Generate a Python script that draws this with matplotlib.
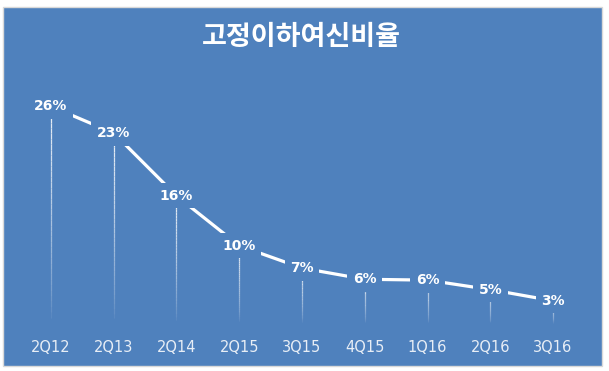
import numpy as np
import matplotlib.pyplot as plt
from matplotlib.collections import LineCollection
from matplotlib.patches import Rectangle

# 분기별 고정이하여신비율 (%)
quarters = ['2Q12', '2Q13', '2Q14', '2Q15', '3Q15', '4Q15', '1Q16', '2Q16', '3Q16']
ratio = [26.0, 22.9, 15.6, 9.8, 7.2, 5.9, 5.8, 4.7, 3.4]
title = '고정이하여신비율'

bg = '#4F81BD'
plt.rcParams['font.family'] = ['Noto Sans CJK KR', 'DejaVu Sans']

fig = plt.figure(figsize=(6.09, 3.71), dpi=100)
fig.patches.append(Rectangle((3 / 609, 5 / 371), 599 / 609, 359 / 371,
                             transform=fig.transFigure, facecolor=bg,
                             edgecolor='#D9D9D9', lw=1, zorder=-1))

ax = fig.add_axes([0.0322, 0.1105, 0.9274, 0.6954])
ax.set_facecolor('none')
for s in ax.spines.values():
    s.set_visible(False)

x = np.arange(len(quarters))

# 아래로 갈수록 흐려지는 드롭 라인
segs, cols = [], []
n = 40
for xi, v in zip(x, ratio):
    ys = np.linspace(0.8, v, n + 1)
    for i in range(n):
        segs.append([(xi, ys[i]), (xi, ys[i + 1])])
        a = 0.9 * (i / n) ** 0.7
        cols.append((1, 1, 1, a))
ax.add_collection(LineCollection(segs, colors=cols, linewidths=0.9, zorder=1))

ax.plot(x, ratio, color='white', lw=2.3, zorder=2)

for xi, v in zip(x, ratio):
    ax.text(xi, v, f'{v:.0f}%', ha='center', va='center', color='white',
            fontsize=10, fontweight='bold', zorder=3, family='DejaVu Sans',
            bbox=dict(boxstyle='square,pad=0.4', fc=bg, ec='none'))

ax.set_xlim(-0.5, 8.5)
ax.set_ylim(0, 30)
ax.set_yticks([])
ax.set_xticks(x, quarters)
ax.tick_params(axis='x', length=0, pad=7, labelsize=10.5, labelcolor='#E8EEF6')
for t in ax.get_xticklabels():
    t.set_family('DejaVu Sans')

fig.text(0.495, 1 - 37 / 371, title, ha='center', va='center', color='white',
         fontsize=19.5, fontweight='bold')

fig.savefig('out.png', dpi=100, facecolor='white')
